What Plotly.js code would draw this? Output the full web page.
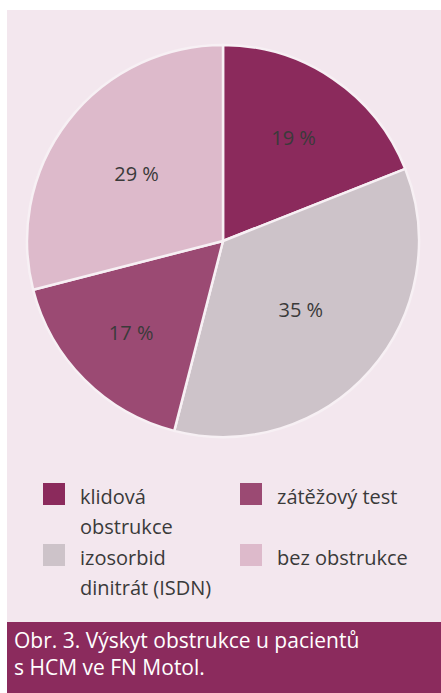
<!DOCTYPE html>
<html>
<head>
<meta charset="utf-8">
<script src="https://cdn.plot.ly/plotly-3.0.1.min.js"></script>
<style>html,body{margin:0;padding:0;background:#fff;}#chart{width:441px;height:693px;}</style>
</head>
<body>
<div id="chart"></div>
<script>
// ---- data ----
const labels = ['klidová obstrukce', 'izosorbid dinitrát (ISDN)', 'zátěžový test', 'bez obstrukce'];
const values = [19, 35, 17, 29];
const sliceText = ['19 %', '35 %', '17 %', '29 %'];
const colors = ['#8B2A5C', '#CDC3C9', '#9B4A73', '#DDBACB'];
// legend order as in the figure (row by row)
const legendOrder = [0, 2, 1, 3];
const legendLines = [['klidová', 'obstrukce'], ['izosorbid', 'dinitrát (ISDN)'], ['zátěžový test'], ['bez obstrukce']];
const captionLines = ['Obr. 3. Výskyt obstrukce u pacientů', 's HCM ve FN Motol.'];

// ---- layout helpers ----
const W = 441, H = 693;
const px = x => x / W;
const py = y => 1 - y / H;
const FONT = '"Open Sans", sans-serif';

const cx = 223, cy = 241, r = 196;

const trace = {
  type: 'pie',
  labels: labels,
  values: values,
  text: sliceText,
  textinfo: 'text',
  textposition: 'inside',
  insidetextorientation: 'horizontal',
  insidetextfont: {family: FONT, size: 20, color: '#3a3a3a'},
  sort: false,
  direction: 'clockwise',
  rotation: 0,
  marker: {colors: colors, line: {color: '#F7F0F4', width: 2.5}},
  domain: {x: [px(cx - r), px(cx + r)], y: [py(cy + r), py(cy - r)]},
  showlegend: false,
  hoverinfo: 'label+percent'
};

const shapes = [
  // panel background
  {type: 'rect', xref: 'paper', yref: 'paper', x0: px(7), x1: 1, y0: py(622), y1: py(10),
   fillcolor: '#F3E7EE', line: {width: 0}, layer: 'below'},
  // caption band
  {type: 'rect', xref: 'paper', yref: 'paper', x0: px(7), x1: 1, y0: 0, y1: py(622),
   fillcolor: '#8B2B5D', line: {width: 0}, layer: 'below'}
];
const annotations = [];

// legend drawn from labels/colors arrays
const colX = [43, 240];
const rowY = [483, 544];
legendOrder.forEach((idx, k) => {
  const row = Math.floor(k / 2), col = k % 2;
  const sx = colX[col], sy = rowY[row];
  shapes.push({type: 'rect', xref: 'paper', yref: 'paper',
    x0: px(sx), x1: px(sx + 22), y0: py(sy + 22), y1: py(sy),
    fillcolor: colors[idx], line: {width: 0}});
  legendLines[idx].forEach((ln, j) => {
    annotations.push({xref: 'paper', yref: 'paper', x: px(sx + 35), y: py(sy + 13 + j * 30),
      xanchor: 'left', yanchor: 'middle', showarrow: false, text: ln,
      font: {family: FONT, size: 20, color: '#3a3a3a'}});
  });
});

annotations.push({xref: 'paper', yref: 'paper', x: px(12), y: py(653), align: 'left',
  xanchor: 'left', yanchor: 'middle', showarrow: false, text: captionLines.join('<br>'),
  font: {family: FONT, size: 21, color: '#ffffff'}});

const layout = {
  width: W, height: H,
  margin: {l: 0, r: 0, t: 0, b: 0},
  paper_bgcolor: '#ffffff',
  plot_bgcolor: '#ffffff',
  showlegend: false,
  shapes: shapes,
  annotations: annotations
};

Plotly.newPlot('chart', [trace], layout, {displayModeBar: false, staticPlot: true});
</script>
</body>
</html>
